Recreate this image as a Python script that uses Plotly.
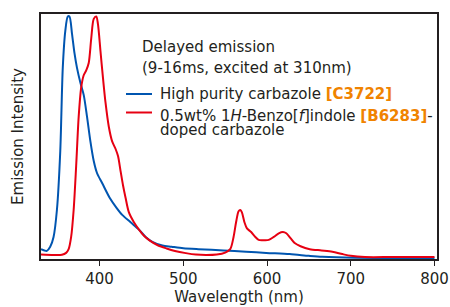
import plotly.graph_objects as go

# Data
blue_wl = [330, 334, 337, 341, 345, 349, 353, 356, 359, 362, 364, 367, 370, 373, 377, 381, 385, 389, 393,
           397, 403, 412, 420, 427, 437, 447, 455, 463, 475, 486, 500, 518, 548, 575, 599, 627, 650, 666,
           705, 750, 800]
blue_int = [0.04, 0.035, 0.033, 0.05, 0.09, 0.2, 0.44, 0.78, 0.93, 0.99, 0.99, 0.92, 0.84, 0.78, 0.72, 0.67,
            0.58, 0.48, 0.40, 0.35, 0.31, 0.25, 0.21, 0.18, 0.15, 0.12, 0.09, 0.07, 0.055, 0.05, 0.044, 0.04,
            0.035, 0.03, 0.025, 0.02, 0.013, 0.009, 0.005, 0.004, 0.003]

red_wl = [330, 345, 355, 360, 363, 366, 369, 372, 375, 378, 381, 384, 387, 390, 393, 396, 398, 401, 404, 407,
          411, 415, 419, 422, 425, 428, 431, 435, 441, 447, 453, 460, 470, 480, 490, 503, 515, 527, 540, 550,
          556, 560, 563, 566, 568, 570, 573, 576, 581, 586, 590, 596, 602, 608, 614, 619, 623, 628, 633, 640,
          651, 665, 678, 690, 700, 717, 750, 800]
red_int = [0.018, 0.016, 0.017, 0.025, 0.04, 0.09, 0.2, 0.38, 0.58, 0.70, 0.75, 0.77, 0.80, 0.9, 0.98, 0.99,
           0.96, 0.85, 0.74, 0.64, 0.54, 0.48, 0.45, 0.42, 0.36, 0.3, 0.25, 0.19, 0.15, 0.12, 0.095, 0.075,
           0.055, 0.043, 0.033, 0.024, 0.018, 0.016, 0.018, 0.026, 0.04, 0.09, 0.15, 0.195, 0.2, 0.19, 0.15,
           0.125, 0.11, 0.09, 0.078, 0.077, 0.078, 0.09, 0.105, 0.11, 0.105, 0.085, 0.065, 0.052, 0.04, 0.035,
           0.03, 0.02, 0.013, 0.008, 0.008, 0.008]

x_ticks = [400, 500, 600, 700, 800]

BLUE = "#0055B0"
RED = "#E60012"
ORANGE = "#F08300"
TXT = "#231F20"
FONT = "DejaVu Sans, sans-serif"
FS = 15

fig = go.Figure()
fig.add_trace(go.Scatter(x=blue_wl, y=blue_int, mode="lines",
                         line=dict(color=BLUE, width=2, shape="spline", smoothing=0.8),
                         showlegend=False))
fig.add_trace(go.Scatter(x=red_wl, y=red_int, mode="lines",
                         line=dict(color=RED, width=2, shape="spline", smoothing=0.8),
                         showlegend=False))

L, R, T, B = 41, 13, 14, 48
W, H = 450, 307
pw, ph = W - L - R, H - T - B

def px(x):
    return (x - L) / pw

def py(y):
    return (H - B - y) / ph

orange_tag = "<b><span style='color:" + ORANGE + "'>{}</span></b>"
anns = [
    ("Delayed emission", 140, 47),
    ("(9-16ms, excited at 310nm)", 140, 68),
    ("High purity carbazole " + orange_tag.format("[C3722]"), 158, 94),
    ("0.5wt% 1<i>H</i>-Benzo[<i>f</i>]indole " + orange_tag.format("[B6283]") + "-", 158, 115.5),
    ("doped carbazole", 158, 130),
]
for text, x, y in anns:
    fig.add_annotation(text=text, x=px(x), y=py(y), xref="paper", yref="paper",
                       xanchor="left", yanchor="middle", showarrow=False,
                       font=dict(family=FONT, size=FS, color=TXT))

for color, y in [(BLUE, 94), (RED, 112.5)]:
    fig.add_shape(type="line", xref="paper", yref="paper",
                  x0=px(126), x1=px(152), y0=py(y), y1=py(y),
                  line=dict(color=color, width=2))

fig.update_layout(
    width=W, height=H,
    margin=dict(l=L, r=R, t=T, b=B, autoexpand=False),
    paper_bgcolor="white", plot_bgcolor="white",
    font=dict(family=FONT, size=FS, color=TXT),
)
fig.update_xaxes(range=[330, 803], tickvals=x_ticks, ticks="outside", ticklen=5,
                 tickcolor=TXT, showline=True, linecolor=TXT, linewidth=1.5, mirror=True,
                 showgrid=False, zeroline=False, automargin=False,
                 title=dict(text="Wavelength (nm)", standoff=5, font=dict(size=FS)))
fig.update_yaxes(range=[0, 1.0], showticklabels=False, ticks="", showline=True,
                 linecolor=TXT, linewidth=1.5, mirror=True, showgrid=False, zeroline=False,
                 automargin=False,
                 title=dict(text="Emission Intensity", standoff=12, font=dict(size=FS)))

fig.write_html("out.html", config={"displayModeBar": False},
               post_script="document.body.style.margin='0';")
